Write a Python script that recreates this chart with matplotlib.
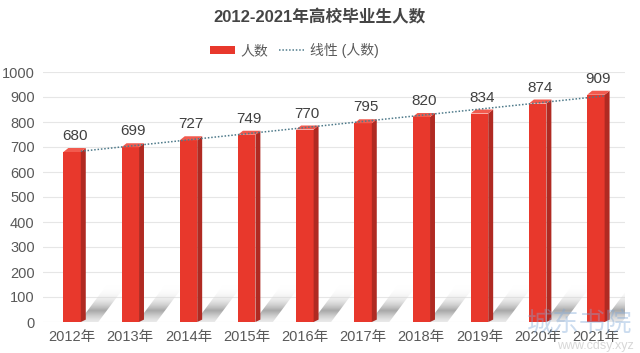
import matplotlib
matplotlib.use("Agg")
import matplotlib.pyplot as plt
import numpy as np
from matplotlib.patches import Polygon, Patch
from matplotlib.lines import Line2D
from matplotlib.colors import LinearSegmentedColormap

plt.rcParams['font.family'] = ['Liberation Sans', 'Noto Sans CJK SC', 'DejaVu Sans']

years = ["2012年", "2013年", "2014年", "2015年", "2016年", "2017年", "2018年", "2019年", "2020年", "2021年"]
values = [680, 699, 727, 749, 770, 795, 820, 834, 874, 909]
title = "2012-2021年高校毕业生人数"

fig = plt.figure(figsize=(6.4, 3.53), dpi=100)
ax = fig.add_axes([43/640, 31/353, 582/640, 250/353])
x = np.arange(len(values))
w = 0.30
dx, dy = 0.085, 16

front_c = '#E8382C'
side_c = '#B02A22'
top_c = '#F25A4E'

# shadows (soft gradient strip)
t = np.linspace(0, 1, 100)
profile = np.clip(np.where(t < 0.3, 0.45 + 0.5 * t / 0.3, 0.95 * (1 - (t - 0.3) / 0.7) ** 1.3), 0, 1)
grad = profile.reshape(-1, 1)
cm = LinearSegmentedColormap.from_list('sh', [(1, 1, 1, 0), (0.62, 0.62, 0.62, 1)])
for xi in x:
    x0 = xi + w/2
    poly = Polygon([(x0 - 0.03, 0), (x0 + 0.45, 150), (x0 + 0.78, 150), (x0 + 0.3, 0)],
                   closed=True, facecolor='none', edgecolor='none')
    ax.add_patch(poly)
    im = ax.imshow(grad, cmap=cm, vmin=0, vmax=1, extent=(x0 - 0.1, x0 + 0.85, 0, 150),
                   origin='lower', aspect='auto', zorder=1, interpolation='bilinear')
    im.set_clip_path(poly)

ax.bar(x, values, width=w, color=front_c, zorder=3)
for xi, v in zip(x, values):
    r = xi + w/2
    l = xi - w/2
    ax.add_patch(Polygon([(r, 0), (r + dx, dy*0.6), (r + dx, v + dy), (r, v)], closed=True,
                         facecolor=side_c, edgecolor='none', zorder=3))
    ax.add_patch(Polygon([(l, v), (l + dx, v + dy), (r + dx, v + dy), (r, v)], closed=True,
                         facecolor=top_c, edgecolor='none', zorder=3))
    ax.text(xi + dx/2, v + 36, str(v), ha='center', va='bottom', fontsize=11, color='#404040', zorder=5)

# linear trend
coef = np.polyfit(x, values, 1)
xt = np.array([x[0] + 0.15, x[-1] + 0.15])
ax.plot(xt, np.polyval(coef, xt - 0.15) + 8, linestyle=(0, (1, 1.2)), color='#4E7A8A', linewidth=1.1, zorder=4)

ax.set_ylim(0, 1000)
ax.set_xlim(-0.5, len(values) - 0.5)
ax.set_yticks(range(0, 1001, 100))
ax.set_xticks(x)
ax.set_xticklabels(years)
ax.tick_params(axis='both', length=0, labelsize=10.5, colors='#595959')
ax.tick_params(axis='x', pad=6)
ax.tick_params(axis='y', pad=6)
ax.grid(axis='y', color='#E6E6E6', linewidth=0.8, zorder=0)
ax.set_axisbelow(True)
for s in ax.spines.values():
    s.set_visible(False)

fig.text(0.5, 0.952, title, ha='center', va='center', fontsize=12, color='#454545', fontweight='bold')

handles = [Patch(facecolor=front_c, edgecolor='none'),
           Line2D([0], [0], linestyle=(0, (1, 1.2)), color='#4E7A8A', linewidth=1.1)]
fig.legend(handles, ['人数', '线性 (人数)'], loc='center', bbox_to_anchor=(0.46, 0.857), ncol=2,
           frameon=False, fontsize=10, labelcolor='#595959', handlelength=1.8, handleheight=0.55,
           columnspacing=0.8, handletextpad=0.4)

# watermark
fig.text(0.905, 0.085, '城东书院', ha='center', va='center', fontsize=19, color='#7FA8D8', alpha=0.4)
fig.text(0.93, 0.02, 'www.cdsy.xyz', ha='center', va='center', fontsize=9, color='#B0B0B0', alpha=0.5)

fig.savefig('out.png', dpi=100)
